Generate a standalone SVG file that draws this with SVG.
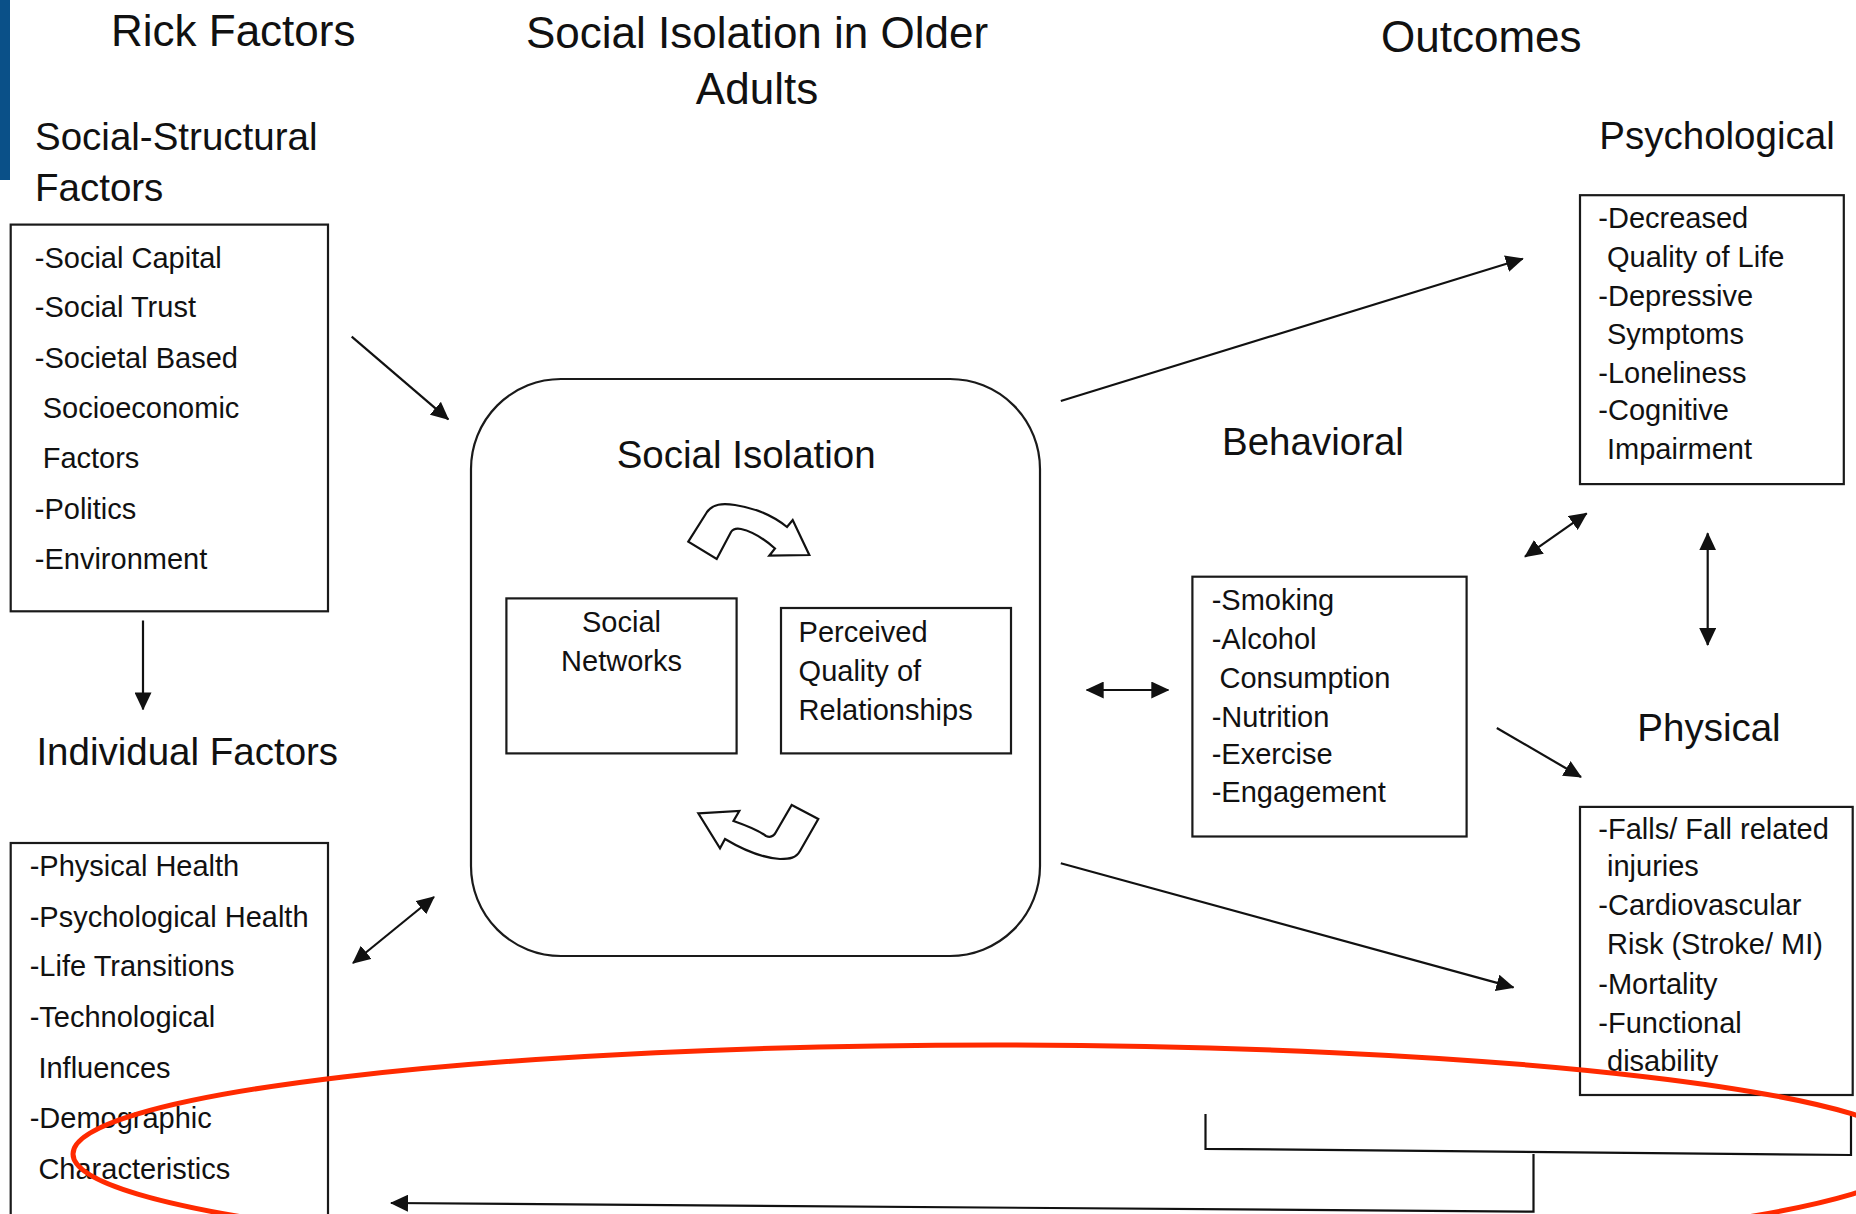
<svg xmlns="http://www.w3.org/2000/svg" width="1856" height="1214" viewBox="0 0 1856 1214">
<style>
text{font-family:"Liberation Sans",Arial,sans-serif;fill:#111}
.t{font-size:44px}
.h{font-size:38.5px}
.i{font-size:29px}
.box{fill:none;stroke:#1a1a1a;stroke-width:2.2}
.ln{fill:none;stroke:#111;stroke-width:2.2}
.blk{fill:#fff;stroke:#111;stroke-width:2.2;stroke-linejoin:miter}
</style>
<defs>
<marker id="ah" viewBox="0 0 18 17" refX="17" refY="8.5" markerWidth="18" markerHeight="17" markerUnits="userSpaceOnUse" orient="auto-start-reverse">
<path d="M0,0 L18,8.5 L0,17 z" fill="#111"/>
</marker>
</defs>
<rect x="0" y="0" width="10" height="180" fill="#0a5088"/>
<g id="titles">
<text class="t" x="111" y="45.5">Rick Factors</text>
<text class="t" x="757" y="47.5" text-anchor="middle">Social Isolation in Older</text>
<text class="t" x="757" y="103.5" text-anchor="middle">Adults</text>
<text class="t" x="1381" y="51.7">Outcomes</text>
</g>
<g id="social-structural">
<text class="h" x="35" y="150">Social-Structural</text>
<text class="h" x="35" y="201">Factors</text>
<rect class="box" x="10.7" y="224.6" width="317.3" height="386.7"/>
<text class="i" x="34.8" y="268">-Social Capital</text>
<text class="i" x="34.8" y="317">-Social Trust</text>
<text class="i" x="34.8" y="368">-Societal Based</text>
<text class="i" x="42.7" y="418">Socioeconomic</text>
<text class="i" x="42.7" y="468">Factors</text>
<text class="i" x="34.8" y="519">-Politics</text>
<text class="i" x="34.8" y="569">-Environment</text>
</g>
<g id="individual">
<text class="h" x="36.4" y="764.6">Individual Factors</text>
<rect class="box" x="10.7" y="843" width="317.3" height="400"/>
<text class="i" x="29.7" y="875.6">-Physical Health</text>
<text class="i" x="29.7" y="926.8">-Psychological Health</text>
<text class="i" x="29.7" y="976">-Life Transitions</text>
<text class="i" x="29.7" y="1027">-Technological</text>
<text class="i" x="38.4" y="1078">Influences</text>
<text class="i" x="29.7" y="1127.6">-Demographic</text>
<text class="i" x="38.4" y="1178.7">Characteristics</text>
</g>
<g id="social-isolation">
<rect class="box" x="471" y="379" width="569" height="577" rx="90" ry="90"/>
<text class="h" x="616.7" y="467.5">Social Isolation</text>
<path class="blk" d="M688.3,541.7 L707,512 C713,504 722,503 735,505 C755,508 772,515 787,527 L792.7,520 L809.3,555 L769.3,555.7 L775,548.5 C762,537 750,531 741,529 C736,528 733,529 731,532 L716.7,559 Z"/>
<path class="blk" d="M698.3,813.3 L739.3,811 L733.5,821 C745,825 758,830 766,836 C771,838 774,836 776,832 L791.7,805 L818.3,819 L800,851 C796,858 790,859 780,859 C765,858 745,851 725,839 L720,848.3 Z"/>
</g>
<g id="social-networks">
<rect class="box" x="506.4" y="598.4" width="230.2" height="155"/>
<text class="i" x="621.5" y="632" text-anchor="middle">Social</text>
<text class="i" x="621.5" y="670.8" text-anchor="middle">Networks</text>
</g>
<g id="perceived-quality">
<rect class="box" x="781" y="608" width="230" height="145.4"/>
<text class="i" x="798.6" y="641.5">Perceived</text>
<text class="i" x="798.6" y="681">Quality of</text>
<text class="i" x="798.6" y="720">Relationships</text>
</g>
<g id="behavioral">
<text class="h" x="1222" y="454.6">Behavioral</text>
<rect class="box" x="1192.4" y="576.7" width="274.2" height="259.8"/>
<text class="i" x="1211.7" y="610">-Smoking</text>
<text class="i" x="1211.7" y="648.8">-Alcohol</text>
<text class="i" x="1219.5" y="688.4">Consumption</text>
<text class="i" x="1211.7" y="726.8">-Nutrition</text>
<text class="i" x="1211.7" y="764.3">-Exercise</text>
<text class="i" x="1211.7" y="801.9">-Engagement</text>
</g>
<g id="psychological">
<text class="h" x="1599.3" y="149.3">Psychological</text>
<rect class="box" x="1580" y="195.2" width="263.8" height="288.9"/>
<text class="i" x="1598.3" y="227.7">-Decreased</text>
<text class="i" x="1607" y="266.7">Quality of Life</text>
<text class="i" x="1598.3" y="306.2">-Depressive</text>
<text class="i" x="1607" y="344.4">Symptoms</text>
<text class="i" x="1598.3" y="382.7">-Loneliness</text>
<text class="i" x="1598.3" y="420.2">-Cognitive</text>
<text class="i" x="1607" y="459.2">Impairment</text>
</g>
<g id="physical">
<text class="h" x="1637.3" y="741.4">Physical</text>
<rect class="box" x="1580" y="806.9" width="272.7" height="288.1"/>
<text class="i" x="1598.3" y="838.6">-Falls/ Fall related</text>
<text class="i" x="1607" y="876">injuries</text>
<text class="i" x="1598.3" y="915.3">-Cardiovascular</text>
<text class="i" x="1607" y="954">Risk (Stroke/ MI)</text>
<text class="i" x="1598.3" y="993.7">-Mortality</text>
<text class="i" x="1598.3" y="1032.5">-Functional</text>
<text class="i" x="1607" y="1070.8">disability</text>
</g>
<g id="connectors">
<line class="ln" x1="351.7" y1="336.7" x2="448.3" y2="419.3" marker-end="url(#ah)"/>
<line class="ln" x1="143" y1="620.5" x2="143" y2="709.4" marker-end="url(#ah)"/>
<line class="ln" x1="353" y1="963" x2="434" y2="897" marker-start="url(#ah)" marker-end="url(#ah)"/>
<line class="ln" x1="1060.8" y1="401" x2="1522.8" y2="258.7" marker-end="url(#ah)"/>
<line class="ln" x1="1086.7" y1="690" x2="1168.3" y2="690" marker-start="url(#ah)" marker-end="url(#ah)"/>
<line class="ln" x1="1060.8" y1="863.2" x2="1513.5" y2="987.4" marker-end="url(#ah)"/>
<line class="ln" x1="1525" y1="556.7" x2="1586.7" y2="513.3" marker-start="url(#ah)" marker-end="url(#ah)"/>
<line class="ln" x1="1707.7" y1="533.3" x2="1707.7" y2="645" marker-start="url(#ah)" marker-end="url(#ah)"/>
<line class="ln" x1="1496.8" y1="728" x2="1581" y2="777" marker-end="url(#ah)"/>
<polyline class="ln" stroke-width="2.6" points="1205.5,1114 1205.5,1148.8 1851,1155 1851,1112"/>
<polyline class="ln" stroke-width="2.6" points="1533.5,1154 1533.5,1211.7 391,1203" marker-end="url(#ah)"/>
</g>
<ellipse cx="995" cy="1154" rx="922" ry="109" fill="none" stroke="#ff2a00" stroke-width="5"/>
</svg>
